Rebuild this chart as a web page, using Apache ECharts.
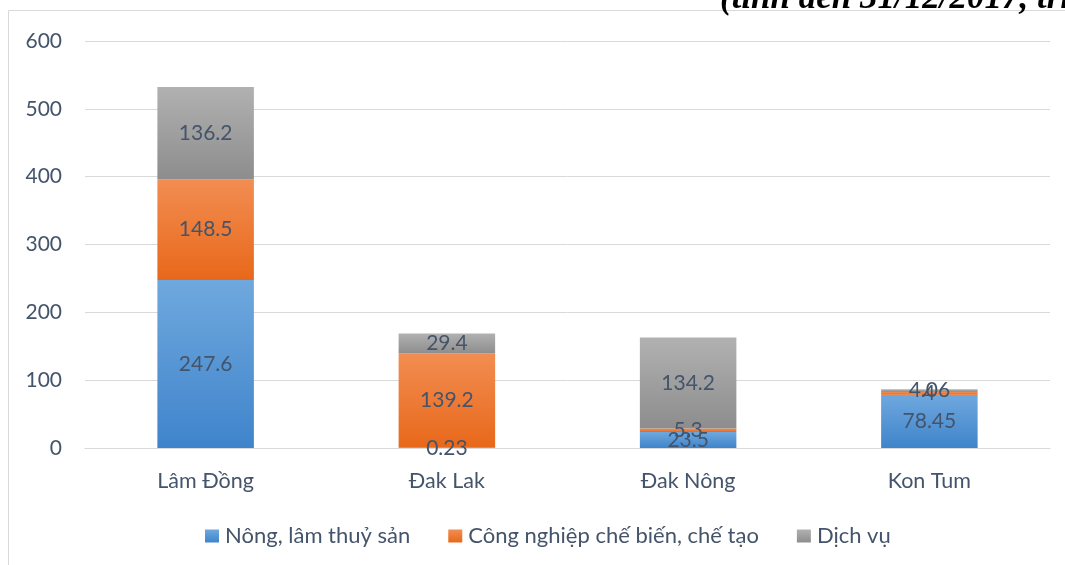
<!DOCTYPE html>
<html>
<head>
<meta charset="utf-8">
<script src="https://cdn.jsdelivr.net/npm/echarts@6/dist/echarts.min.js"></script>
<style>
  html, body { margin: 0; padding: 0; background: #fff; }
  #chart { width: 1065px; height: 565px; }
</style>
</head>
<body>
<div id="chart"></div>
<script>
// Vốn đầu tư theo tỉnh và ngành
const provinces = ['Lâm Đồng', 'Đak Lak', 'Đak Nông', 'Kon Tum'];
const seriesNames = ['Nông, lâm thuỷ sản', 'Công nghiệp chế biến, chế tạo', 'Dịch vụ'];
const agriculture = [247.6, 0.23, 23.5, 78.45];
const industry = [148.5, 139.2, 5.3, 4];
const services = [136.2, 29.4, 134.2, 4.06];
const yTicks = { min: 0, max: 600, interval: 100 };
const noteText = '(tính đến 31/12/2017, triệu USD)';

const FONT = 'Lato, "Open Sans", sans-serif';
const TEXT = '#44546a';

function grad(top, bottom) {
  return new echarts.graphic.LinearGradient(0, 0, 0, 1, [
    { offset: 0, color: top },
    { offset: 1, color: bottom }
  ]);
}

const fills = [
  grad('#6fa8de', '#3f84cb'),
  grad('#f28d52', '#e8681a'),
  grad('#b1b1b1', '#8d8d8d')
];
const legendFills = [
  grad('#6fa8de', '#3f84cb'),
  grad('#f28d52', '#e8681a'),
  grad('#b1b1b1', '#8d8d8d')
];

const values = [agriculture, industry, services];

const chart = echarts.init(document.getElementById('chart'), null, { renderer: 'canvas' });
chart.setOption({
  backgroundColor: '#fff',
  animation: false,
  grid: { left: 85, right: 15, top: 41, bottom: 117 },
  legend: {
    top: 520,
    left: 200,
    icon: 'rect',
    itemWidth: 14,
    itemHeight: 13,
    itemGap: 38,
    textStyle: { fontFamily: FONT, fontSize: 22, color: TEXT, padding: [0, 0, 0, 1] },
    data: seriesNames.map((n, i) => ({ name: n, itemStyle: { color: legendFills[i] } }))
  },
  xAxis: {
    type: 'category',
    data: provinces,
    axisLine: { lineStyle: { color: '#d9d9d9', width: 1 } },
    axisTick: { show: false },
    axisLabel: { fontFamily: FONT, fontSize: 21.5, color: TEXT, margin: 22 }
  },
  yAxis: {
    type: 'value',
    min: yTicks.min,
    max: yTicks.max,
    interval: yTicks.interval,
    axisLine: { show: false },
    axisTick: { show: false },
    splitLine: { lineStyle: { color: '#d9d9d9', width: 1 } },
    axisLabel: { fontFamily: FONT, fontSize: 21, color: TEXT, margin: 23 }
  },
  series: seriesNames.map((name, i) => ({
    name: name,
    type: 'bar',
    stack: 'total',
    barWidth: '40%',
    data: values[i],
    itemStyle: { color: fills[i] },
    label: {
      show: true,
      position: 'inside',
      fontFamily: FONT,
      fontSize: 21,
      color: TEXT
    }
  })),
  graphic: [
    {
      type: 'rect',
      shape: { x: 8.5, y: 10.5, width: 1070, height: 600 },
      style: { fill: 'none', stroke: '#d9d9d9', lineWidth: 1 },
      silent: true
    },
    {
      type: 'text',
      x: 720,
      y: -19,
      style: {
        text: noteText,
        font: 'italic bold 35px "Liberation Serif", "DejaVu Serif", serif',
        fill: '#000'
      }
    }
  ]
});
</script>
</body>
</html>
